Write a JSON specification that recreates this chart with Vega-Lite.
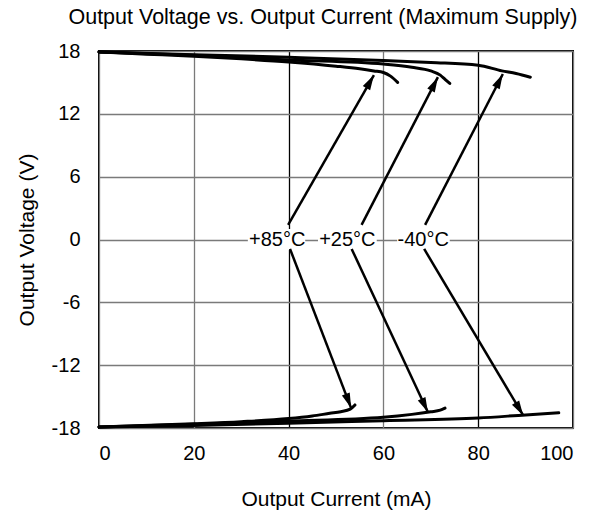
{
  "$schema": "https://vega.github.io/schema/vega-lite/v6.json",
  "width": 474,
  "height": 377,
  "autosize": {"type": "none"},
  "padding": {"left": 99, "top": 51, "right": 25, "bottom": 82},
  "title": {"text": "Output Voltage vs. Output Current (Maximum Supply)", "fontSize": 21.5, "font": "Liberation Sans", "fontWeight": "normal", "color": "black", "offset": 13, "dx": -13},
  "config": {
    "view": {"stroke": "black", "strokeWidth": 2},
    "font": "Liberation Sans",
    "axis": {"domain": false, "ticks": false, "grid": true, "gridColor": {"condition": {"test": "datum.value == 40 || datum.value == 80", "value": "black"}, "value": "#7a7a7a"}, "gridOpacity": 1, "gridWidth": 1.3, "labelFontSize": 20, "titleFontSize": 21, "labelColor": "black", "titleColor": "black", "titleFontWeight": "normal", "labelFont": "Liberation Sans", "titleFont": "Liberation Sans", "labelExpr": "toString(datum.value)"},
    "axisX": {"labelPadding": 15, "titlePadding": 25},
    "axisY": {"labelPadding": 19, "titlePadding": 14}
  },
  "datasets": {
    "curves": [
      {"s": "+85 up", "x": 0, "y": 17.9}, {"s": "+85 up", "x": 10, "y": 17.7}, {"s": "+85 up", "x": 20, "y": 17.5}, {"s": "+85 up", "x": 30, "y": 17.25}, {"s": "+85 up", "x": 40, "y": 16.95}, {"s": "+85 up", "x": 50, "y": 16.55}, {"s": "+85 up", "x": 55, "y": 16.3}, {"s": "+85 up", "x": 58, "y": 16.1}, {"s": "+85 up", "x": 60, "y": 15.95}, {"s": "+85 up", "x": 61.5, "y": 15.6}, {"s": "+85 up", "x": 63, "y": 15.0},
      {"s": "+25 up", "x": 0, "y": 17.9}, {"s": "+25 up", "x": 20, "y": 17.6}, {"s": "+25 up", "x": 40, "y": 17.15}, {"s": "+25 up", "x": 60, "y": 16.75}, {"s": "+25 up", "x": 66, "y": 16.45}, {"s": "+25 up", "x": 70, "y": 16.1}, {"s": "+25 up", "x": 72, "y": 15.7}, {"s": "+25 up", "x": 73, "y": 15.3}, {"s": "+25 up", "x": 74, "y": 14.9},
      {"s": "-40 up", "x": 0, "y": 17.9}, {"s": "-40 up", "x": 20, "y": 17.65}, {"s": "-40 up", "x": 40, "y": 17.4}, {"s": "-40 up", "x": 60, "y": 17.1}, {"s": "-40 up", "x": 70, "y": 16.9}, {"s": "-40 up", "x": 80, "y": 16.65}, {"s": "-40 up", "x": 85, "y": 16.1}, {"s": "-40 up", "x": 88, "y": 15.85}, {"s": "-40 up", "x": 91, "y": 15.5},
      {"s": "+85 dn", "x": 0, "y": -17.9}, {"s": "+85 dn", "x": 20, "y": -17.6}, {"s": "+85 dn", "x": 30, "y": -17.4}, {"s": "+85 dn", "x": 40, "y": -17.1}, {"s": "+85 dn", "x": 45, "y": -16.85}, {"s": "+85 dn", "x": 48.7, "y": -16.6}, {"s": "+85 dn", "x": 51, "y": -16.45}, {"s": "+85 dn", "x": 53, "y": -16.2}, {"s": "+85 dn", "x": 54, "y": -15.8},
      {"s": "+25 dn", "x": 0, "y": -17.9}, {"s": "+25 dn", "x": 20, "y": -17.65}, {"s": "+25 dn", "x": 40, "y": -17.35}, {"s": "+25 dn", "x": 60, "y": -16.98}, {"s": "+25 dn", "x": 66, "y": -16.7}, {"s": "+25 dn", "x": 70, "y": -16.45}, {"s": "+25 dn", "x": 72, "y": -16.3}, {"s": "+25 dn", "x": 73, "y": -16.1},
      {"s": "-40 dn", "x": 0, "y": -17.9}, {"s": "-40 dn", "x": 20, "y": -17.75}, {"s": "-40 dn", "x": 40, "y": -17.55}, {"s": "-40 dn", "x": 60, "y": -17.3}, {"s": "-40 dn", "x": 80, "y": -17.05}, {"s": "-40 dn", "x": 90, "y": -16.75}, {"s": "-40 dn", "x": 97, "y": -16.55}
    ],
    "labels": [
      {"label": "+85°C", "x": 37.6, "y": 0, "x1": 31.4, "x2": 43.5},
      {"label": "+25°C", "x": 52.4, "y": 0, "x1": 46.2, "x2": 58.6},
      {"label": "-40°C", "x": 68.4, "y": 0, "x1": 62.9, "x2": 74.0}
    ],
    "arrows": [
      {"a": "+85 up", "x": 39.9, "y": 1.4, "xt": 58.0, "yt": 15.7},
      {"a": "+25 up", "x": 55.4, "y": 1.4, "xt": 71.5, "yt": 15.5},
      {"a": "-40 up", "x": 68.8, "y": 1.4, "xt": 85.2, "yt": 15.8},
      {"a": "+85 dn", "x": 40.3, "y": -0.9, "xt": 53.2, "yt": -16.1},
      {"a": "+25 dn", "x": 53.3, "y": -0.9, "xt": 69.4, "yt": -16.5},
      {"a": "-40 dn", "x": 68.6, "y": -0.9, "xt": 89.5, "yt": -16.8}
    ]
  },
  "encoding": {
    "x": {"field": "x", "type": "quantitative", "title": "Output Current (mA)", "scale": {"domain": [0, 100], "nice": false, "zero": false}, "axis": {"values": [0, 20, 40, 60, 80, 100]}},
    "y": {"field": "y", "type": "quantitative", "title": "Output Voltage (V)", "scale": {"domain": [-18, 18], "nice": false, "zero": false}, "axis": {"values": [-18, -12, -6, 0, 6, 12, 18]}}
  },
  "layer": [
    {
      "data": {"name": "curves"},
      "mark": {"type": "line", "color": "black", "strokeWidth": 3, "interpolate": "monotone", "strokeCap": "round"},
      "encoding": {"detail": {"field": "s"}}
    },
    {
      "data": {"name": "labels"},
      "transform": [{"calculate": "datum.y - 1", "as": "yb"}, {"calculate": "datum.y + 1", "as": "ytop"}],
      "mark": {"type": "rect", "color": "white"},
      "encoding": {"x": {"field": "x1", "type": "quantitative"}, "x2": {"field": "x2"}, "y": {"field": "yb", "type": "quantitative"}, "y2": {"field": "ytop"}}
    },
    {
      "data": {"name": "labels"},
      "mark": {"type": "text", "fontSize": 20, "font": "Liberation Sans", "color": "black", "baseline": "middle", "align": "center"},
      "encoding": {"text": {"field": "label"}}
    },
    {
      "data": {"name": "arrows"},
      "mark": {"type": "rule", "color": "black", "strokeWidth": 2.5},
      "encoding": {"x2": {"field": "xt"}, "y2": {"field": "yt"}}
    },
    {
      "data": {"name": "arrows"},
      "transform": [{"calculate": "atan2((datum.xt - datum.x) * 4.74, (datum.yt - datum.y) * 377 / 36) * 180 / PI", "as": "ang"}],
      "mark": {"type": "point", "shape": "M0,0L-0.28,1L0.28,1Z", "filled": true, "color": "black", "opacity": 1, "size": 900},
      "encoding": {"x": {"field": "xt", "type": "quantitative"}, "y": {"field": "yt", "type": "quantitative"}, "angle": {"field": "ang", "type": "quantitative", "scale": null}}
    }
  ]
}
